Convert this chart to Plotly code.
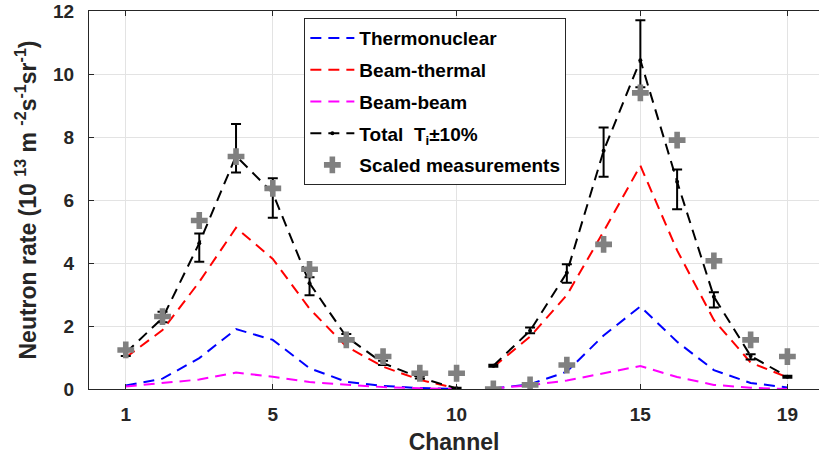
import plotly.graph_objects as go

# ---------------- data ----------------
channels = list(range(1, 20))
thermonuclear = [0.11, 0.33, 0.98, 1.90, 1.56, 0.66, 0.23, 0.10, 0.03, 0.00,
                 0.02, 0.15, 0.55, 1.70, 2.62, 1.50, 0.60, 0.19, 0.05]
beam_thermal = [1.00, 1.87, 3.40, 5.12, 4.13, 2.55, 1.35, 0.71, 0.29, 0.02,
                0.70, 1.66, 2.98, 5.00, 7.09, 4.40, 2.19, 0.84, 0.37]
beam_beam = [0.08, 0.19, 0.30, 0.52, 0.39, 0.22, 0.13, 0.06, 0.02, 0.00,
             0.02, 0.12, 0.27, 0.50, 0.73, 0.38, 0.13, 0.04, 0.00]
total = [1.15, 2.25, 4.63, 7.40, 6.22, 3.36, 1.66, 0.82, 0.36, 0.02,
         0.74, 1.85, 3.69, 7.56, 10.44, 6.58, 2.93, 1.05, 0.39]
total_upper = [1.27, 2.45, 4.94, 8.41, 6.69, 3.55, 1.75, 0.90, 0.42, 0.04,
               0.77, 1.95, 3.96, 8.30, 11.71, 6.97, 3.07, 1.10, 0.42]
total_lower = [1.05, 2.12, 4.04, 6.87, 5.44, 2.98, 1.55, 0.76, 0.33, 0.01,
               0.71, 1.77, 3.37, 6.74, 9.58, 5.71, 2.59, 0.94, 0.36]
measured = [1.24, 2.30, 5.35, 7.38, 6.37, 3.80, 1.56, 1.03, 0.50, 0.50,
            0.00, 0.13, 0.76, 4.59, 9.40, 7.90, 4.07, 1.56, 1.03]

x_ticks = [1, 5, 10, 15, 19]
y_ticks = [0, 2, 4, 6, 8, 10, 12]
BREAK = 10  # two detector arrays: channels 1-10 and 11-19


def broken(vals, fill=None):
    return list(vals[:BREAK]) + [fill] + list(vals[BREAK:])


xb = broken(channels)
err_up = [u - t for u, t in zip(total_upper, total)]
err_dn = [t - l for t, l in zip(total, total_lower)]

FONT = "Liberation Sans, Arial, Helvetica, sans-serif"
DASH = "11px,7px"

fig = go.Figure()

for name, vals, col in [("Thermonuclear", thermonuclear, "#0000ff"),
                        ("Beam-thermal", beam_thermal, "#ff0000"),
                        ("Beam-beam", beam_beam, "#ff00ff")]:
    fig.add_trace(go.Scatter(
        x=xb, y=broken(vals), mode="lines", name=name, legendgroup=name,
        line=dict(color=col, width=2, dash=DASH), connectgaps=False))

fig.add_trace(go.Scatter(
    x=xb, y=broken(total), mode="lines+markers",
    name="Total  T<sub>i</sub>±10%", legendgroup="total",
    line=dict(color="black", width=2, dash=DASH),
    marker=dict(color="black", size=4),
    error_y=dict(type="data", symmetric=False,
                 array=broken(err_up, 0), arrayminus=broken(err_dn, 0),
                 color="black", thickness=2, width=5),
    connectgaps=False))

fig.add_trace(go.Scatter(
    x=channels, y=measured, mode="markers", name="Scaled measurements",
    legendgroup="meas",
    marker=dict(symbol="cross", size=14, color="#808080", line=dict(width=0))))

axis_common = dict(
    showgrid=True, gridcolor="#e3e3e3", gridwidth=1,
    showline=True, linecolor="#262626", linewidth=1,
    ticks="inside", ticklen=5, tickcolor="#262626", tickwidth=1,
    zeroline=False, automargin=False,
    tickfont=dict(family=FONT, size=19, color="#262626", weight="bold"),
)

fig.update_layout(
    width=819, height=460,
    margin=dict(l=89, r=0, t=11, b=71, autoexpand=False),
    paper_bgcolor="white", plot_bgcolor="white",
    font=dict(family=FONT, color="black"),
    showlegend=True,
    legend=dict(
        x=0.295, y=0.981, xanchor="left", yanchor="top",
        bgcolor="white", bordercolor="#262626", borderwidth=1,
        font=dict(family=FONT, size=19, color="black", weight="bold"),
        tracegroupgap=4, traceorder="grouped", itemwidth=44,
    ),
    xaxis=dict(
        range=[0, 19.86], tickvals=x_ticks, ticktext=[str(t) for t in x_ticks],
        mirror="ticks", ticklabelstandoff=8,
        title=dict(text="Channel", standoff=10,
                   font=dict(family=FONT, size=23, color="#262626", weight="bold")),
        **axis_common),
    yaxis=dict(
        range=[0, 12], tickvals=y_ticks, ticktext=[str(t) for t in y_ticks],
        mirror=False, ticklabelstandoff=10,
        title=dict(text="Neutron rate (10 <sup>13</sup> m <sup>-2</sup>s<sup>-1</sup>sr<sup>-1</sup>)",
                   standoff=10,
                   font=dict(family=FONT, size=23, color="#262626", weight="bold")),
        **axis_common),
)

# remove the browser's default 8px body margin so the figure sits at (0, 0)
fig.write_html("out.html", config={"displayModeBar": False},
               post_script="document.body.style.margin='0';")
